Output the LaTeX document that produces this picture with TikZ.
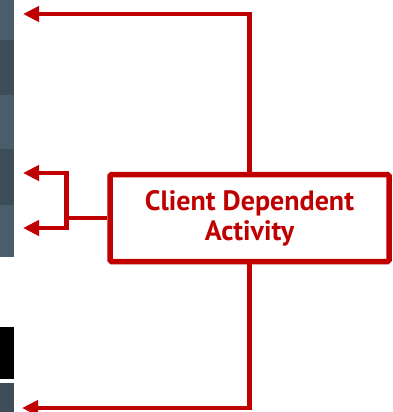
\documentclass[tikz,border=0pt]{standalone}
\usepackage{fontspec}
\setmainfont{PT Sans}
\usepackage{xcolor}
\usetikzlibrary{positioning,arrows.meta}
\definecolor{actred}{HTML}{C00000}
\definecolor{slatelight}{HTML}{4A5D6B}
\definecolor{slatedark}{HTML}{3D4E5A}

\begin{document}
\begin{tikzpicture}[x=1pt, y=-1pt,
        actbox/.style={draw=actred, line width=5.5pt, rounded corners=1.5pt, fill=white,
            minimum width=279pt, minimum height=87pt, inner sep=0pt, align=center,
            text=actred, font=\fontsize{28}{30}\selectfont\bfseries},
        redline/.style={draw=actred, line width=4.5pt},
        redarrow/.style={redline, -{Triangle[length=16pt,width=15pt]}},
        stripdark/.style={fill=slatedark},
        striplight/.style={fill=slatelight}
    ]
    \useasboundingbox (0,0) rectangle (392,412);

    % Left strip
    \fill[striplight] (0,0) rectangle (14,40);
    \fill[stripdark] (0,40) rectangle (14,95);
    \fill[striplight] (0,95) rectangle (14,149);
    \fill[stripdark] (0,149) rectangle (14,205);
    \fill[striplight] (0,205) rectangle (14,257);
    \fill[black] (0,327) rectangle (14,379);
    \fill[stripdark] (0,383) rectangle (14,412);

    % Nodes
    \node[actbox] (act) at (249.5,218) {Client Dependent\\Activity};

    \coordinate (topcorner) at (249.5,14);
    \coordinate (topend) at (23,14);
    \coordinate (botcorner) at (249.5,408);
    \coordinate (botend) at (22,408);
    \coordinate (bracket) at (66.5,218);
    \coordinate (upend) at (23,173);
    \coordinate (lowend) at (23,228);

    % Edges
    \draw[redarrow] (act.north) -- (topcorner) -- (topend);
    \draw[redarrow] (act.south) -- (botcorner) -- (botend);
    \draw[redline] (act.west) -- (bracket);
    \draw[redarrow] (bracket) |- (upend);
    \draw[redarrow] (bracket) |- (lowend);
\end{tikzpicture}
\end{document}
